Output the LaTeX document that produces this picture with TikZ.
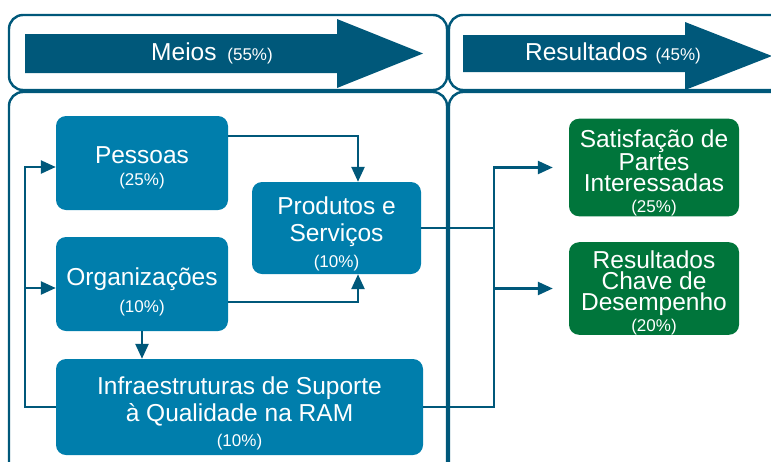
\documentclass[tikz,border=0pt]{standalone}
\usepackage{fontspec}
\setmainfont{Liberation Sans}
\usetikzlibrary{arrows.meta,positioning}
\definecolor{petrol}{RGB}{0,88,122}
\definecolor{boxblue}{RGB}{0,126,172}
\definecolor{boxgreen}{RGB}{0,117,59}
\newcommand{\pct}[1]{{\fontsize{17}{19}\selectfont(#1\%)}}
\newcommand{\lift}[1]{\rule{0pt}{#1}}

\begin{document}
\begin{tikzpicture}[x=1pt, y=-1pt,
                    panel/.style={draw=petrol, line width=2.4pt, rounded corners=14pt},
                    blok/.style={fill=boxblue, text=white, rounded corners=10pt,
                                 align=center, inner sep=0pt,
                                 font=\fontsize{24.5}{27}\selectfont},
                    resbox/.style={blok, fill=boxgreen, font=\fontsize{24.5}{21}\selectfont},
                    wire/.style={draw=petrol, line width=2.5pt},
                    link/.style={wire, -{Triangle[length=15pt,width=13pt]}}]
   \useasboundingbox (0,0) rectangle (771,461);
   \clip (0,0) rectangle (771,461);

   % panels
   \draw[panel] (9,15) rectangle (447,90);
   \draw[panel] (449,15) rectangle (800,90);
   \draw[panel] (9,92) rectangle (447,490);
   \draw[panel] (449,92) rectangle (800,490);

   % big arrows
   \fill[petrol] (25,34) -- (337,34) -- (337,19) -- (423,53.5) -- (337,88) -- (337,73) -- (25,73) -- cycle;
   \node[text=white, font=\fontsize{24.5}{27}\selectfont] (meios) at (212,53) {Meios\hspace{4pt} \pct{55}};
   \fill[petrol] (463,35) -- (685,35) -- (685,22) -- (772,56) -- (685,90) -- (685,72) -- (463,72) -- cycle;
   \node[text=white, font=\fontsize{24.5}{27}\selectfont] (resultados) at (613,53) {Resultados\hspace{1pt} \pct{45}};

   % boxes
   \node[blok, minimum width=172pt, minimum height=94pt] (pessoas) at (142,163) {\lift{27.5pt}Pessoas\\[-5pt]\pct{25}};
   \node[blok, minimum width=169pt, minimum height=92pt] (produtos) at (336.5,228) {\lift{30pt}Produtos e\\Servi\c{c}os\\[-1pt]\pct{10}};
   \node[blok, minimum width=172pt, minimum height=94pt] (org) at (142,284) {\lift{33pt}Organiza\c{c}\~{o}es\\[0pt]\pct{10}};
   \node[blok, minimum width=367pt, minimum height=96pt] (infra) at (239.5,407) {\lift{30pt}Infraestruturas de Suporte\\\`{a} Qualidade na RAM\\[-2pt]\pct{10}};
   \node[resbox, minimum width=170pt, minimum height=91pt] (satisf) at (654,167.5) {\lift{29pt}Satisfa\c{c}\~{a}o de\\Partes\\Interessadas\\\pct{25}};
   \node[resbox, minimum width=170pt, minimum height=91pt] (chave) at (654,288.5) {\lift{26pt}Resultados\\Chave de\\Desempenho\\\pct{20}};

   \coordinate (loopTop) at (25,167);
   \coordinate (loopMid) at (25,288);
   \coordinate (hubTop) at (494,167.5);
   \coordinate (hubMid) at (494,288.5);

   % Define connections
   \draw[link] (pessoas.east |- 0,136) -| ([xshift=21.5pt]produtos.north);
   \draw[link] (org.east |- 0,302) -| ([xshift=21.5pt]produtos.south);
   \draw[link] (org.south) -- (org.south |- infra.north);
   \draw[link] (infra.west) -| (loopTop) -- (pessoas.west |- loopTop);
   \draw[link] (loopMid) -- (org.west |- loopMid);
   \draw[wire] (produtos.east) -- (produtos.east -| hubTop);
   \draw[link, shorten >=16pt] (infra.east) -| (hubTop) -- (satisf.west);
   \draw[link, shorten >=16pt] (hubMid) -- (chave.west);

\end{tikzpicture}
\end{document}
